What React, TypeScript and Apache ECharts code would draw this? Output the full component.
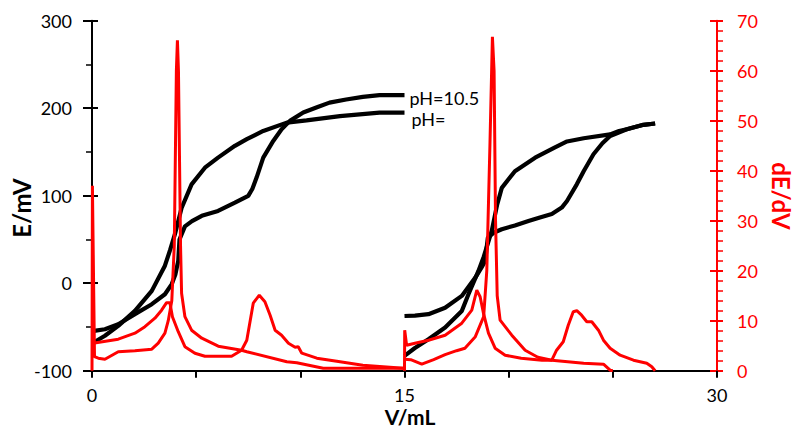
import React, { useEffect, useRef } from "react";
import * as echarts from "echarts";

const FONT = "Lato, 'Open Sans', sans-serif";

// Titration 1 (0-15 mL), E/mV
const eTwoStep1: [number, number][] = [
  [0.1, -54.5], [0.62, -52.6], [1.26, -47], [2.06, -35.4], [2.87, -24], [3.5, -12.6], [3.83, -1],
  [4.0, 10], [4.14, 25.5], [4.2, 50], [4.46, 65], [4.8, 71], [5.27, 77], [6.05, 82.6], [6.86, 92],
  [7.5, 99.8], [7.7, 108], [7.9, 120.7], [8.22, 143.5], [8.7, 162.6], [9.1, 176], [9.5, 185.5],
  [10.14, 195], [10.8, 201], [11.4, 206.4], [12.2, 210], [13.0, 213], [13.8, 215], [15.0, 215],
];
const eOneStep1: [number, number][] = [
  [0.1, -67.5], [0.62, -60], [1.26, -48.8], [2.06, -31.7], [2.87, -8.8], [3.5, 20], [3.75, 38],
  [3.98, 56], [4.3, 86], [4.78, 113], [5.42, 132], [6.05, 143.5], [6.86, 157], [7.43, 164.6],
  [8.22, 174], [9.35, 183.5], [10.3, 186], [11.9, 191], [13.8, 195], [15.0, 195],
];
// Titration 2 (15-27 mL), E/mV
const eTwoStep2: [number, number][] = [
  [15.0, -37.5], [15.5, -37], [16.15, -35.4], [16.95, -28], [17.75, -14.5], [18.4, 6.4], [18.7, 18],
  [18.87, 25.5], [19.0, 52], [19.3, 58], [19.67, 61.7], [20.3, 66], [20.95, 71], [21.5, 75],
  [22.07, 79], [22.55, 86.4], [22.8, 94], [23.27, 113], [23.6, 128], [24.07, 147.4], [24.5, 160],
  [24.87, 168.3], [25.67, 176], [26.47, 181], [27.03, 182.5],
];
const eOneStep2: [number, number][] = [
  [15.0, -83], [15.5, -74], [16.15, -64], [16.95, -50.7], [17.75, -31.7], [18.07, -12.6],
  [18.55, 14], [18.8, 30], [19.19, 60], [19.45, 90], [19.67, 109], [20.3, 128], [21.27, 143.5],
  [22.2, 155], [22.8, 162], [23.6, 165.7], [24.87, 170], [25.3, 174], [25.67, 176], [26.47, 181],
  [27.03, 182.5],
];
// dE/dV curves
const dTwoStep1: [number, number][] = [
  [0.05, 5.5], [0.5, 5.8], [1.26, 6.3], [2.06, 7.5], [2.54, 8.8], [3.02, 10.5], [3.34, 12.1],
  [3.58, 13.6], [3.74, 13.6], [3.86, 10.8], [4.14, 7.8], [4.46, 4.8], [4.94, 3.5], [5.42, 2.9],
  [6.7, 2.9], [7.18, 4.1], [7.43, 6.1], [7.74, 13.5], [8.03, 15.1], [8.3, 13.8], [8.55, 11.1],
  [8.79, 8.1], [9.1, 7.1], [9.43, 5.5], [9.75, 4.7], [9.9, 4.8], [10.07, 3.5], [10.79, 2.5],
  [11.75, 1.9], [13.0, 1.1], [14.3, 0.7], [14.95, 0.5],
];
const dOneStep1: [number, number][] = [
  [0, 0], [0.02, 37], [0.12, 2.8], [0.3, 2.5], [0.62, 2.3], [1.26, 3.8], [2.06, 4.0], [2.87, 4.3],
  [3.18, 5.5], [3.5, 7.5], [3.66, 10], [3.83, 14], [3.95, 25], [4.05, 60], [4.1, 66.1], [4.15, 60],
  [4.25, 25], [4.3, 15.5], [4.46, 10.8], [4.78, 8.1], [5.27, 6.5], [6.06, 4.9], [7.18, 4.1],
  [7.43, 3.8], [9.35, 1.8], [9.83, 1.6], [11.1, 0.5], [14.95, 0.5],
];
const dTwoStep2: [number, number][] = [
  [15.0, 0], [15.01, 8.1], [15.1, 5.1], [15.5, 5.5], [16.15, 6.1], [16.95, 7.1], [17.75, 9.5],
  [18.23, 12.1], [18.47, 16.1], [18.63, 14.8], [18.79, 11.5], [19.03, 7.5], [19.35, 4.5],
  [19.83, 3.1], [20.6, 2.5], [21.6, 2.1], [22.07, 2.1], [22.3, 4.1], [22.62, 5.8], [22.86, 9.1],
  [23.1, 11.8], [23.27, 12], [23.5, 11.1], [23.75, 9.8], [23.99, 9.8], [24.31, 8.1], [24.55, 6.1],
  [24.87, 4.5], [25.35, 3.1], [25.99, 2.1], [26.63, 1.5], [26.87, 0.8], [27.03, 0],
];
const dOneStep2: [number, number][] = [
  [15.0, 2.3], [15.3, 2.2], [15.83, 1.3], [16.4, 2.2], [16.95, 3.2], [17.5, 4], [17.9, 4.5],
  [18.4, 6.8], [18.8, 10.8], [18.95, 20], [19.1, 45], [19.22, 66.8], [19.3, 60], [19.37, 30],
  [19.45, 15], [19.59, 10.1], [20.15, 7.1], [20.79, 4.1], [21.4, 2.7], [22.07, 2.1], [23.6, 1.5],
  [24.55, 1.3], [24.87, 0.1], [25.0, 0],
];

const curveLabels = ["pH=10.5", "pH="];
const xRange = [0, 30];
const xMajorStep = 15;
const eRange = [-100, 300];
const eStep = 100;
const dRange = [0, 70];
const dStep = 10;
const axisTitles = { x: "V/mL", left: "E/mV", right: "dE/dV" };

const RED = "#ff0000";

export default function App() {
  const ref = useRef<HTMLDivElement>(null);
  useEffect(() => {
    if (!ref.current) return;
    const chart = echarts.init(ref.current, undefined, { renderer: "svg" });

    const blackSeries = (data: [number, number][], label?: string, offset?: number[]) => ({
      type: "line",
      data,
      xAxisIndex: 0,
      yAxisIndex: 0,
      showSymbol: false,
      symbol: "none",
      silent: true,
      z: 2,
      lineStyle: { color: "#000", width: 4.2 },
      itemStyle: { color: "#000" },
      endLabel: label
        ? {
            show: true,
            formatter: label,
            distance: 0,
            offset,
            color: "#000",
            fontSize: 18,
            fontFamily: FONT,
          }
        : { show: false },
    });
    const redSeries = (data: [number, number][]) => ({
      type: "line",
      data,
      xAxisIndex: 0,
      yAxisIndex: 2,
      showSymbol: false,
      symbol: "none",
      silent: true,
      z: 3,
      lineStyle: { color: RED, width: 3 },
      itemStyle: { color: RED },
    });

    const labelStyle = (color: string) => ({
      color,
      fontSize: 18,
      fontFamily: FONT,
    });

    chart.setOption({
      animation: false,
      grid: { left: 92, right: 78, top: 20.7, bottom: 57.3, containLabel: false },
      xAxis: {
        type: "value",
        min: xRange[0],
        max: xRange[1],
        interval: xMajorStep,
        axisLine: { show: true, onZero: false, lineStyle: { color: "#000", width: 2 } },
        axisTick: { show: true, length: 7, lineStyle: { color: "#000", width: 2 } },
        minorTick: { show: true, splitNumber: 3, length: 7, lineStyle: { color: "#000", width: 2 } },
        axisLabel: { ...labelStyle("#000"), margin: 15 },
        splitLine: { show: false },
        minorSplitLine: { show: false },
      },
      yAxis: [
        {
          type: "value",
          position: "left",
          min: eRange[0],
          max: eRange[1],
          interval: eStep,
          axisLine: { show: true, onZero: false, lineStyle: { color: "#000", width: 2 } },
          axisTick: { show: true, length: 9, lineStyle: { color: "#000", width: 2 } },
          minorTick: { show: true, splitNumber: 2, length: 6, lineStyle: { color: "#000", width: 1.5 } },
          axisLabel: { ...labelStyle("#000"), margin: 20 },
          splitLine: { show: false },
          minorSplitLine: { show: false },
        },
        {
          type: "value",
          position: "left",
          min: eRange[0],
          max: eRange[1],
          interval: eStep,
          axisLine: { show: false, onZero: false },
          axisTick: { show: true, inside: true, length: 6, lineStyle: { color: "#000", width: 2 } },
          axisLabel: { show: false },
          splitLine: { show: false },
        },
        {
          type: "value",
          position: "right",
          min: dRange[0],
          max: dRange[1],
          interval: dStep,
          axisLine: { show: true, onZero: false, lineStyle: { color: RED, width: 2 } },
          axisTick: { show: true, length: 6, lineStyle: { color: RED, width: 2 } },
          minorTick: { show: true, splitNumber: 5, length: 6, lineStyle: { color: RED, width: 1.5 } },
          axisLabel: { ...labelStyle(RED), margin: 20 },
          splitLine: { show: false },
          minorSplitLine: { show: false },
        },
        {
          type: "value",
          position: "right",
          min: dRange[0],
          max: dRange[1],
          interval: dStep,
          axisLine: { show: false, onZero: false },
          axisTick: { show: true, inside: true, length: 7, lineStyle: { color: RED, width: 2 } },
          axisLabel: { show: false },
          splitLine: { show: false },
        },
      ],
      series: [
        blackSeries(eTwoStep1, curveLabels[0], [5, 3]),
        blackSeries(eOneStep1, curveLabels[1], [7, 6]),
        blackSeries(eTwoStep2),
        blackSeries(eOneStep2),
        redSeries(dTwoStep1),
        redSeries(dOneStep1),
        redSeries(dTwoStep2),
        redSeries(dOneStep2),
      ],
      graphic: [
        {
          type: "text",
          x: 410,
          y: 416,
          style: {
            text: axisTitles.x,
            fontSize: 21,
            fontWeight: "bold",
            fontFamily: FONT,
            fill: "#000",
            align: "center",
            verticalAlign: "middle",
          },
        },
        {
          type: "text",
          x: 21,
          y: 208,
          rotation: Math.PI / 2,
          style: {
            text: axisTitles.left,
            fontSize: 24,
            fontWeight: "bold",
            fontFamily: FONT,
            fill: "#000",
            align: "center",
            verticalAlign: "middle",
          },
        },
        {
          type: "text",
          x: 781,
          y: 196,
          rotation: -Math.PI / 2,
          style: {
            text: axisTitles.right,
            fontSize: 24,
            fontWeight: "bold",
            fontFamily: FONT,
            fill: RED,
            align: "center",
            verticalAlign: "middle",
          },
        },
      ],
    });
    return () => chart.dispose();
  }, []);

  return (
    <div
      ref={ref}
      style={{ position: "fixed", left: 0, top: 0, width: 795, height: 428, background: "#fff" }}
    />
  );
}
